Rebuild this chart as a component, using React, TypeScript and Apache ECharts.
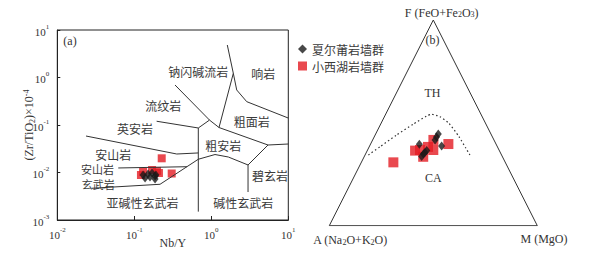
import React, { useEffect, useRef } from "react";
import * as echarts from "echarts";

// ---------- Panel (a): Nb/Y vs (Zr/TiO2)x10^-4 ----------
const xiaErPuA: [number, number][] = [
  [0.13, 0.00885], [0.138, 0.00766], [0.151, 0.00929], [0.16, 0.00804],
  [0.17, 0.00976], [0.186, 0.00844], [0.186, 0.0073], [0.191, 0.00885],
];
const xiaoXiHuA: [number, number][] = [
  [0.227, 0.0199], [0.306, 0.00953], [0.197, 0.0108], [0.17, 0.0113],
  [0.209, 0.00976], [0.122, 0.00885], [0.13, 0.0103],
];

// classification boundaries (Winchester & Floyd), [Nb/Y, Zr/TiO2]
const boundaryLines: [number, number][][] = [
  [[1.614, 4.83], [1.932, 1.225], [2.138, 0.546], [2.884, 0.31], [10, 0.14]],
  [[1.932, 1.225], [1.259, 0.0885]],
  [[0.338, 0.695], [0.948, 0.127], [1.259, 0.0885]],
  [[0.948, 0.127], [0.678, 0.0865]],
  [[0.195, 0.12], [0.678, 0.0865]],
  [[0.678, 0.0865], [0.678, 0.0015]],
  [[1.259, 0.0885], [5.45, 0.0379], [10, 0.0398]],
  [[5.45, 0.0379], [3.0, 0.0144], [3.0, 0.00388]],
  [[0.0236, 0.0586], [0.356, 0.0245], [0.678, 0.0258]],
  [[0.0619, 0.01245], [0.483, 0.01324]],
  [[0.028, 0.00465], [0.216, 0.00565], [0.678, 0.019], [1.117, 0.0239], [1.663, 0.0212], [3.0, 0.0144]],
];

// ---------- Panel (b): AFM ternary, [A, F, M] ----------
const xiaErPuAFM: [number, number, number][] = [
  [36.9, 39.6, 23.5], [25.3, 44.6, 30.1], [28.3, 41.7, 30.0], [26.6, 38.8, 34.6],
  [34.9, 36.5, 28.6], [37.3, 34.9, 27.8], [38.8, 33.6, 27.6], [36.2, 35.6, 28.2],
  [26.9, 43.1, 30.0],
];
const xiaoXiHuAFM: [number, number, number][] = [
  [53.8, 30.8, 15.4], [40.5, 36.5, 23.0], [38.1, 33.5, 28.4], [29.1, 41.7, 29.2],
  [31.6, 36.8, 31.6], [22.9, 39.7, 37.4], [38.0, 36.8, 25.2], [33.4, 38.3, 28.3],
];
// Irvine & Baragar (1971) TH / CA divide
const thCaCurve: [number, number, number][] = [
  [64.0, 34.4, 1.6], [56.4, 38.4, 5.2], [45.6, 44.1, 10.3], [34.9, 49.4, 15.7],
  [26.6, 53.3, 20.1], [23.7, 54.2, 22.1], [20.3, 53.0, 26.7], [17.6, 49.8, 32.6],
  [16.0, 43.3, 40.7], [15.5, 37.6, 46.9], [15.2, 34.4, 50.4],
];
const triangleVertices: [number, number, number][] = [
  [100, 0, 0], [0, 0, 100], [0, 100, 0], [100, 0, 0],
];

const SERIES_BLACK = "夏尔莆岩墙群";
const SERIES_RED = "小西湖岩墙群";

const toXY = (p: [number, number, number]): [number, number] => {
  const s = p[0] + p[1] + p[2];
  const f = p[1] / s;
  const m = p[2] / s;
  return [m + f / 2, f];
};

const serif = "'Liberation Serif', 'DejaVu Serif', serif";
const cjk = "'Noto Sans CJK SC', sans-serif";
const lineColor = "#333";
const textColor = "#333";

export default function App() {
  const ref = useRef<HTMLDivElement>(null);
  useEffect(() => {
    if (!ref.current) return;
    const chart = echarts.init(ref.current, undefined, { renderer: "svg" });

    const expLabel = (v: number) => `{b|10}{s|${Math.round(Math.log10(v))}}`;
    const tickRich = {
      b: { fontSize: 11, fontFamily: serif, color: textColor, lineHeight: 14, verticalAlign: "bottom" },
      s: { fontSize: 7, fontFamily: serif, color: textColor, lineHeight: 14, verticalAlign: "top" },
    };

    const cjkText = (text: string, x: number, y: number, size = 12) => ({
      type: "text",
      x,
      y,
      silent: true,
      style: {
        text,
        fill: "#3a3a3a",
        font: `${size}px ${cjk}`,
        lineHeight: size + 1,
        align: "center",
        verticalAlign: "middle",
      },
    });
    const serifText = (text: string, x: number, y: number, size = 12) => ({
      type: "text",
      x,
      y,
      silent: true,
      style: {
        text,
        fill: textColor,
        font: `${size}px ${serif}`,
        align: "center",
        verticalAlign: "middle",
        rich: {
          sub: { fontSize: 8, fontFamily: serif, fill: textColor, verticalAlign: "bottom", lineHeight: 14 },
          n: { fontSize: size, fontFamily: serif, fill: textColor, lineHeight: 14, verticalAlign: "bottom" },
        },
      },
    });

    const boundarySeries = boundaryLines.map((pts) => ({
      type: "line",
      xAxisIndex: 0,
      yAxisIndex: 0,
      data: pts,
      symbol: "none",
      silent: true,
      lineStyle: { color: lineColor, width: 1 },
    }));

    const option: any = {
      animation: false,
      backgroundColor: "#fff",
      grid: [
        {
          left: 57.3, top: 30, width: 231, height: 190,
          outerBoundsMode: "none", containLabel: false,
          show: true, borderColor: "#222", borderWidth: 1, backgroundColor: "transparent",
        },
        { left: 329.3, top: 20, width: 208, height: 205.7, outerBoundsMode: "none", containLabel: false },
      ],
      xAxis: [
        {
          gridIndex: 0,
          type: "log",
          logBase: 10,
          min: 0.01,
          max: 10,
          name: "Nb/Y",
          nameLocation: "middle",
          nameGap: 17,
          nameMoveOverlap: false,
          nameTextStyle: { fontFamily: serif, fontSize: 12, color: textColor },
          axisLine: { show: true, lineStyle: { color: "#222", width: 1 } },
          axisTick: { show: true, inside: true, length: 4, lineStyle: { color: "#222" } },
          minorTick: { show: false },
          splitLine: { show: false },
          axisLabel: { formatter: expLabel, rich: tickRich, margin: 6, showMinLabel: true, showMaxLabel: true, hideOverlap: false },
        },
        { gridIndex: 1, type: "value", min: 0, max: 1, show: false },
      ],
      yAxis: [
        {
          gridIndex: 0,
          type: "log",
          logBase: 10,
          min: 0.001,
          max: 10,
          name: "(Zr/TiO{sub|2})×10{sup|-4}",
          nameLocation: "middle",
          nameGap: 21,
          nameMoveOverlap: false,
          nameTextStyle: {
            fontFamily: serif,
            fontSize: 12,
            color: textColor,
            rich: {
              sub: { fontSize: 8, fontFamily: serif, color: textColor, verticalAlign: "bottom", lineHeight: 14 },
              sup: { fontSize: 8, fontFamily: serif, color: textColor, verticalAlign: "top", lineHeight: 14 },
            },
          },
          axisLine: { show: true, lineStyle: { color: "#222", width: 1 } },
          axisTick: { show: true, inside: true, length: 3, lineStyle: { color: "#222" } },
          splitLine: { show: false },
          axisLabel: { formatter: expLabel, rich: tickRich, margin: 8, showMinLabel: true, showMaxLabel: true, hideOverlap: false },
        },
        { gridIndex: 1, type: "value", min: 0, max: 1, show: false },
      ],
      legend: {
        orient: "vertical",
        left: 293,
        top: 38,
        itemWidth: 9,
        itemHeight: 9,
        itemGap: 5,
        textStyle: { fontFamily: cjk, fontSize: 12, color: "#3a3a3a" },
        data: [
          { name: SERIES_BLACK, icon: "diamond" },
          { name: SERIES_RED, icon: "rect" },
        ],
      },
      series: [
        ...boundarySeries,
        {
          type: "line",
          xAxisIndex: 1,
          yAxisIndex: 1,
          data: triangleVertices.map(toXY),
          symbol: "none",
          silent: true,
          lineStyle: { color: lineColor, width: 1 },
        },
        {
          type: "line",
          xAxisIndex: 1,
          yAxisIndex: 1,
          data: thCaCurve.map(toXY),
          symbol: "none",
          smooth: 0.15,
          silent: true,
          lineStyle: { color: lineColor, width: 1.2, type: [1.5, 2.5] },
        },
        {
          name: SERIES_RED,
          type: "scatter",
          xAxisIndex: 0,
          yAxisIndex: 0,
          data: xiaoXiHuA,
          symbol: "rect",
          symbolSize: 8,
          itemStyle: { color: "#e31b23" },
        },
        {
          name: SERIES_BLACK,
          type: "scatter",
          xAxisIndex: 0,
          yAxisIndex: 0,
          data: xiaErPuA,
          symbol: "diamond",
          symbolSize: [7, 9],
          itemStyle: { color: "#1a1a1a" },
        },
        {
          name: SERIES_RED,
          type: "scatter",
          xAxisIndex: 1,
          yAxisIndex: 1,
          data: xiaoXiHuAFM.map(toXY),
          symbol: "rect",
          symbolSize: 10,
          itemStyle: { color: "#e31b23" },
        },
        {
          name: SERIES_BLACK,
          type: "scatter",
          xAxisIndex: 1,
          yAxisIndex: 1,
          data: xiaErPuAFM.map(toXY),
          symbol: "diamond",
          symbolSize: [7, 9],
          itemStyle: { color: "#1a1a1a" },
        },
      ],
      graphic: [
        serifText("(a)", 70, 40.7),
        cjkText("钠闪碱流岩", 198.3, 71.7),
        cjkText("响岩", 263.3, 73.3),
        cjkText("流纹岩", 163.3, 105),
        cjkText("粗面岩", 251.7, 121.7),
        cjkText("英安岩", 135, 128.3),
        cjkText("粗安岩", 223.3, 145),
        cjkText("安山岩", 113.3, 154),
        cjkText("安山岩", 97.5, 169, 11),
        cjkText("玄武岩", 98.3, 183.5, 11),
        cjkText("碧玄岩", 270, 175),
        cjkText("亚碱性玄武岩", 142.5, 202.7),
        cjkText("碱性玄武岩", 243.3, 202.7),
        serifText("(b)", 432.5, 40),
        serifText("TH", 432.5, 92.7),
        serifText("CA", 433.3, 177.7),
        serifText("{n|F (FeO+Fe}{sub|2}{n|O}{sub|3}{n|)}", 441.7, 11.7),
        serifText("{n|A (Na}{sub|2}{n|O+K}{sub|2}{n|O)}", 350, 239),
        serifText("M (MgO)", 544, 239),
      ],
    };

    chart.setOption(option);
    return () => chart.dispose();
  }, []);

  return (
    <div
      ref={ref}
      style={{ position: "absolute", left: 0, top: 0, width: 591, height: 253, background: "#fff" }}
    />
  );
}
